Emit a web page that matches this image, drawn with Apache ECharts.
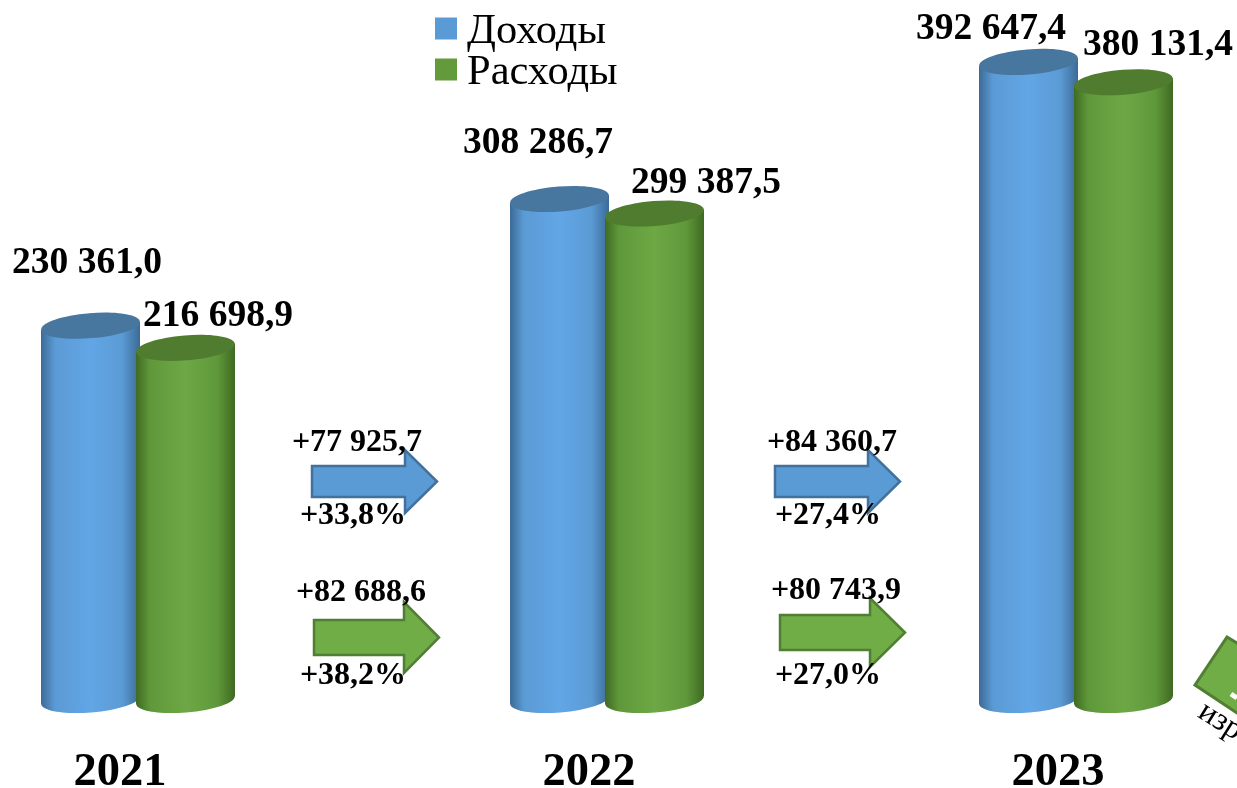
<!DOCTYPE html>
<html><head><meta charset="utf-8">
<style>html,body{margin:0;padding:0;background:#fff}#c{width:1237px;height:788px}</style>
<script src="https://cdn.jsdelivr.net/npm/echarts@6/dist/echarts.min.js"></script>
</head><body><div id="c"></div>
<script>
const years = ['2021','2022','2023'];
const income = [230361.0, 308286.7, 392647.4];
const expense = [216698.9, 299387.5, 380131.4];
const seriesNames = ['Доходы','Расходы'];
const incomeDelta = ['+77 925,7','+84 360,7'];
const incomePct = ['+33,8%','+27,4%'];
const expenseDelta = ['+82 688,6','+80 743,9'];
const expensePct = ['+38,2%','+27,0%'];
const incomeLabelShift = [[-3.5,-62.5],[-21.5,-55.5],[-37.5,-32.5]];
const expenseLabelShift = [[32.5,-31.5],[51.5,-30],[34.5,-36.5]];

const FONT = '"Liberation Serif","Times New Roman",serif';
const fmt = v => { const [a,b] = v.toFixed(1).split('.'); return a.replace(/\B(?=(\d{3})+$)/g,' ') + ',' + b; };
const grad = (e,m,c) => ({type:'linear',x:0,y:0,x2:1,y2:0,colorStops:[
  {offset:0,color:e},{offset:.14,color:m},{offset:.5,color:c},{offset:.82,color:m},{offset:1,color:e}]});

function cylinder(dx, side, top, shifts){
  return function(params, api){
    const i = api.value(0), v = api.value(1);
    const t = api.coord([i, v]), b = api.coord([i, 0]);
    const cx = t[0] + dx, rx = 49.5, ry = 12.5, tilt = 4;
    const fill = grad(side[0], side[1], side[2]);
    const rot = 4.6 * Math.PI / 180;
    const s = shifts[i];
    return {type:'group', children:[
      {type:'ellipse', shape:{cx:0,cy:0,rx:rx,ry:ry}, x:cx, y:b[1], rotation:rot, style:{fill:fill}},
      {type:'polygon', shape:{points:[[cx-rx,t[1]+tilt],[cx+rx,t[1]-tilt],[cx+rx,b[1]-tilt],[cx-rx,b[1]+tilt]]}, style:{fill:fill}},
      {type:'ellipse', shape:{cx:0,cy:0,rx:rx,ry:ry}, x:cx, y:t[1], rotation:rot, style:{fill:top}},
      {type:'text', x:cx+s[0], y:t[1]+s[1], z2:20, style:{text:fmt(v), font:'bold 37.5px '+FONT, fill:'#000',
        align:'center', verticalAlign:'middle', textAlign:'center', textVerticalAlign:'middle'}}
    ]};
  };
}
const arrow = (x0,x1,x2,yc,hs,hh,fill,stroke) => ({type:'polygon', z:5,
  shape:{points:[[x0,yc-hs],[x1,yc-hs],[x1,yc-hh],[x2,yc],[x1,yc+hh],[x1,yc+hs],[x0,yc+hs]]},
  style:{fill:fill,stroke:stroke,lineWidth:2.5}});
const txt = (x,y,text,size) => ({type:'text', z:10, x:x, y:y,
  style:{text:text, font:'bold '+size+'px '+FONT, fill:'#000', align:'center', verticalAlign:'middle', textAlign:'center', textVerticalAlign:'middle'}});

const BLUE = '#5b9bd5', GREEN = '#70ad47';
const chart = echarts.init(document.getElementById('c'), null, {renderer:'canvas'});
chart.setOption({
  backgroundColor:'#fff', animation:false,
  legend:{orient:'vertical', left:435, top:10.5, padding:0, itemWidth:22, itemHeight:22, itemGap:-2, itemStyle:{borderWidth:0}, icon:'rect', selectedMode:false,
    data:seriesNames, formatter:n=>'{t|'+n+'}',
    textStyle:{fontFamily:FONT, fontSize:42.5, color:'#000', padding:[0,0,0,5],
      rich:{t:{fontFamily:FONT, fontSize:42.5, color:'#000', padding:[7,0,0,0]}}}},
  grid:{left:-96.5, width:1407, top:0, height:700, outerBoundsMode:'none', containLabel:false},
  xAxis:{type:'category', data:years, axisLine:{show:false}, axisTick:{show:false},
    axisLabel:{margin:49, padding:[0,36,0,0], fontFamily:FONT, fontWeight:'bold', fontSize:46.5, color:'#000'}},
  yAxis:{type:'value', min:0, max:430770, show:false, splitLine:{show:false}},
  series:[
    {name:seriesNames[0], type:'custom', itemStyle:{color:BLUE}, z:2, encode:{x:0,y:1},
      data:income.map((v,i)=>[i,v]), renderItem:cylinder(-47.5,['#3c6a96','#5b9bd5','#62a6e6'],'#47769f',incomeLabelShift)},
    {name:seriesNames[1], type:'custom', itemStyle:{color:'#629a3c'}, z:3, encode:{x:0,y:1},
      data:expense.map((v,i)=>[i,v]), renderItem:cylinder(47.5,['#3f6a22','#5f983a','#6ea845'],'#4f7c2e',expenseLabelShift)}
  ],
  graphic:{elements:[
    arrow(312,405,437,481.5,15.5,31.5,BLUE,'#41719c'),
    arrow(314,404,439,637.5,17.5,35.5,GREEN,'#507e32'),
    arrow(775,868,900,481.5,15.5,31.5,BLUE,'#41719c'),
    arrow(780,870,905,632.5,17.5,34.5,GREEN,'#507e32'),
    txt(357,443,incomeDelta[0],32), txt(353,516,incomePct[0],32),
    txt(361,593,expenseDelta[0],32), txt(353,676,expensePct[0],32),
    txt(832,443,incomeDelta[1],32), txt(828,516,incomePct[1],32),
    txt(836,591,expenseDelta[1],32), txt(828,676,expensePct[1],32),
    {type:'polygon', z:5, shape:{points:[[1195,685],[1227,637],[1300,680],[1270,735]]}, style:{fill:GREEN,stroke:'#507e32',lineWidth:3}},
    {type:'polyline', z:6, shape:{points:[[1231,694],[1237,698]]}, style:{stroke:'#fff',lineWidth:5,fill:null}},
    {type:'text', z:10, x:1201, y:709, rotation:-32*Math.PI/180, style:{text:'изр', font:'32px '+FONT, fill:'#000', align:'left', verticalAlign:'middle', textAlign:'left', textVerticalAlign:'middle'}}
  ]}
});
</script></body></html>
